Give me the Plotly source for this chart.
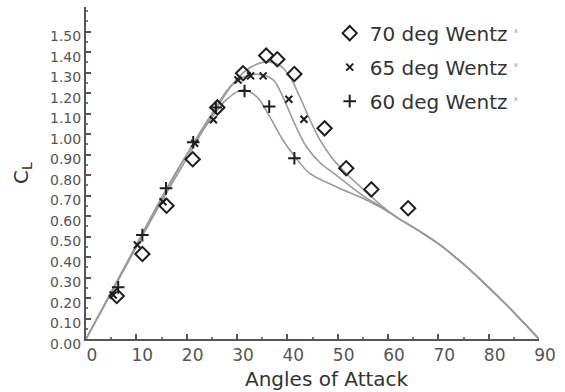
import plotly.graph_objects as go

# Measured lift coefficients (Wentz) for three delta-wing sweep angles
aoa_70 = [6.1, 11.2, 16.0, 21.2, 26.1, 31.2, 35.8, 38.0, 41.4, 47.4, 51.7, 56.7, 64.0]
cl_70 = [0.21, 0.415, 0.65, 0.877, 1.13, 1.297, 1.383, 1.365, 1.293, 1.028, 0.833, 0.73, 0.638]

aoa_65 = [5.4, 10.2, 15.3, 21.6, 25.3, 30.2, 32.7, 35.2, 40.3, 43.3]
cl_65 = [0.215, 0.459, 0.67, 0.955, 1.07, 1.264, 1.284, 1.284, 1.17, 1.072]

aoa_60 = [6.4, 11.2, 15.9, 21.3, 25.8, 31.5, 36.4, 41.4]
cl_60 = [0.252, 0.507, 0.735, 0.96, 1.13, 1.21, 1.134, 0.882]

# Predicted curves (shared post-stall tail beyond ~60 deg)
tail_aoa = [62, 66, 70, 75, 80, 85, 90]
tail_cl = [0.59, 0.53, 0.465, 0.365, 0.252, 0.13, 0]

curve_aoa_70 = [0, 5, 10, 15, 20, 25, 30, 33, 36, 38.5, 40.5, 42.5, 44.5, 46.5, 49, 52, 56, 59] + tail_aoa
curve_cl_70 = [0, 0.225, 0.45, 0.67, 0.88, 1.09, 1.27, 1.33, 1.352, 1.335, 1.28, 1.18, 1.07, 0.97, 0.88, 0.80, 0.71, 0.645] + tail_cl

curve_aoa_65 = [0, 5, 10, 15, 20, 25, 29, 32.5, 35.2, 37.2, 39.1, 41.1, 43.8, 46.5, 49.7, 55, 59] + tail_aoa
curve_cl_65 = [0, 0.225, 0.45, 0.68, 0.9, 1.1, 1.24, 1.288, 1.288, 1.264, 1.183, 1.069, 0.938, 0.86, 0.80, 0.70, 0.64] + tail_cl

curve_aoa_60 = [0, 5, 10, 15, 20, 25, 28, 31, 33.9, 36.5, 39.1, 41.5, 44.4, 49.7, 55, 58.3] + tail_aoa
curve_cl_60 = [0, 0.23, 0.46, 0.69, 0.9, 1.08, 1.17, 1.215, 1.183, 1.085, 0.971, 0.89, 0.809, 0.743, 0.687, 0.645] + tail_cl

x_ticks = [0, 10, 20, 30, 40, 50, 60, 70, 80, 90]
y_ticks = [round(0.1 * i, 2) for i in range(16)]
y_tick_text = [f"{v:.2f}" for v in y_ticks]

FONT = "DejaVu Sans"
LINE = "#9a9a9a"
INK = "#1e1e1e"
SUP = '<sup><span style="font-size:7px;color:#999">x</span></sup>'

fig = go.Figure()

for xs, ys in [(curve_aoa_70, curve_cl_70), (curve_aoa_65, curve_cl_65), (curve_aoa_60, curve_cl_60)]:
    fig.add_trace(go.Scatter(
        x=xs, y=ys, mode="lines", line=dict(color=LINE, width=1.6, shape="spline", smoothing=1.0),
        showlegend=False, hoverinfo="skip",
    ))

fig.add_trace(go.Scatter(
    x=aoa_70, y=cl_70, mode="markers", name="70 deg Wentz " + SUP, legendgroup="a",
    marker=dict(symbol="diamond-open", size=11, color=INK, line=dict(width=2, color=INK)),
))
fig.add_trace(go.Scatter(
    x=aoa_65, y=cl_65, mode="markers", name="65 deg Wentz " + SUP, legendgroup="b",
    marker=dict(symbol="x-thin-open", size=7, color=INK, line=dict(width=2, color=INK)),
))
fig.add_trace(go.Scatter(
    x=aoa_60, y=cl_60, mode="markers", name="60 deg Wentz " + SUP, legendgroup="c",
    marker=dict(symbol="cross-thin-open", size=9, color=INK, line=dict(width=2, color=INK)),
))

fig.add_annotation(
    text="Angles of Attack", xref="paper", yref="paper", x=0.531, y=-0.12,
    xanchor="center", yanchor="middle", showarrow=False,
    font=dict(size=20, color="#333", family=FONT),
)

fig.update_layout(
    width=565, height=392,
    margin=dict(l=86, r=26, t=7, b=53),
    paper_bgcolor="white", plot_bgcolor="white",
    font=dict(family=FONT, color="#444"),
    legend=dict(
        x=0.538, y=0.98, xanchor="left", yanchor="top",
        font=dict(size=20, color="#333", family=FONT),
        tracegroupgap=5, bgcolor="rgba(0,0,0,0)",
    ),
    xaxis=dict(
        range=[0, 90], tickvals=x_ticks, ticktext=[str(v) for v in x_ticks],
        showgrid=False, zeroline=False, showline=True, linecolor="#555", linewidth=2,
        ticks="inside", ticklen=5, tickcolor="#555", tickwidth=1.5,
        minor=dict(dtick=5, ticks="inside", ticklen=2, tickcolor="#777"),
        tickfont=dict(size=17, color="#555", family=FONT), ticklabelshift=6,
    ),
    yaxis=dict(
        range=[0, 1.62], tickvals=y_ticks, ticktext=y_tick_text,
        showgrid=False, zeroline=False, showline=True, linecolor="#555", linewidth=2,
        ticks="inside", ticklen=5, tickcolor="#555", tickwidth=1.5,
        minor=dict(dtick=0.05, ticks="inside", ticklen=2, tickcolor="#777"),
        tickfont=dict(size=14, color="#555", family=FONT), ticklabelshift=5, ticklabelstandoff=0,
        title=dict(text="C<sub>L</sub>", font=dict(size=20, color="#333", family=FONT), standoff=16),
    ),
)

fig.write_html("out.html")
